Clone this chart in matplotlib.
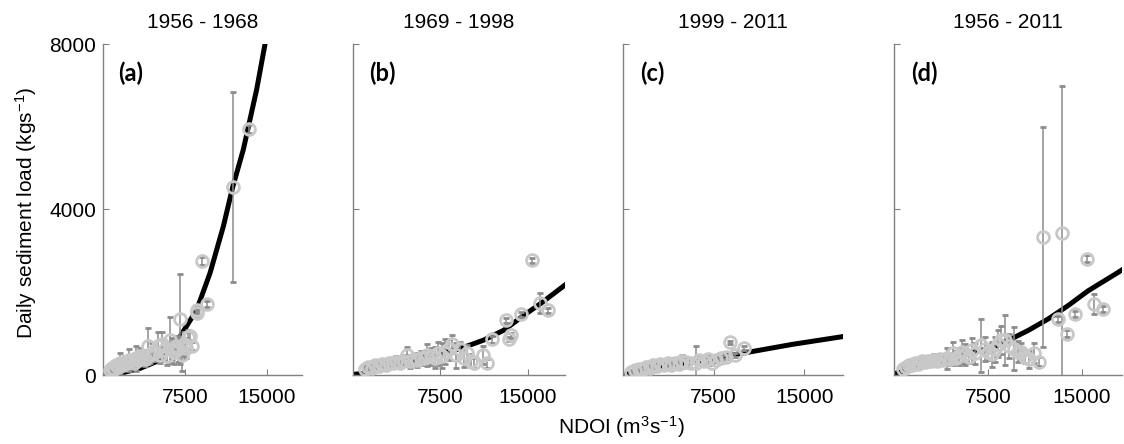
import matplotlib

matplotlib.use("Agg")
import matplotlib.pyplot as plt

# ---- data (NDOI m3/s, load kg/s, +/- error) ----
titles = ["1956 - 1968", "1969 - 1998", "1999 - 2011", "1956 - 2011"]
panel_tags = ["(a)", "(b)", "(c)", "(d)"]

a_q = [600, 800, 1000, 1200, 1400, 1600, 1800, 2000, 2200, 2400, 2600, 2800, 3000,
       3200, 3400, 3600, 3800, 4090, 4300, 4500, 4700, 5000, 5200, 5370, 5600, 5830,
       6130, 6300, 6500, 6700, 6900, 7050, 7200, 7400, 7600, 7810, 7960, 8110, 8570,
       8640, 9090, 9550, 11860, 13360]
a_load = [120, 180, 150, 230, 200, 280, 250, 320, 290, 360, 330, 300, 400,
          370, 450, 420, 380, 700, 480, 560, 520, 690, 480, 750, 600, 450,
          850, 640, 560, 700, 620, 1350, 480, 750, 650, 930, 945, 700, 1575,
          1500, 2750, 1720, 4540, 5940]
a_err = [60, 80, 70, 100, 90, 240, 120, 150, 130, 260, 120, 140, 300,
         150, 200, 180, 160, 430, 200, 220, 180, 360, 200, 300, 250, 200,
         550, 250, 300, 250, 300, 1090, 380, 300, 250, 150, 100, 100, 80,
         80, 100, 80, 2300, 100]
a_fit_q = [0, 500, 1560, 3390, 5220, 7050, 8570, 9790, 11010, 11860, 12840, 14060, 14820, 15300]
a_fit_load = [0, 10, 40, 160, 360, 930, 1575, 2465, 3595, 4540, 5455, 6910, 8000, 8600]

b_q = [1000, 1300, 1600, 1900, 2200, 2500, 2800, 3100, 3400, 3700, 4000, 4300, 4630,
       4900, 5200, 5500, 5800, 6100, 6350, 6700, 7000, 7270, 7600, 7900, 8200, 8510,
       8800, 9220, 9510, 9800, 10100, 10430, 11170, 11520, 11920, 13100, 13400, 13530,
       14450, 15400, 16060, 16750]
b_load = [150, 200, 180, 240, 220, 270, 250, 300, 280, 320, 300, 350, 480,
          330, 380, 360, 420, 400, 480, 450, 420, 520, 470, 560, 620, 750,
          480, 640, 400, 530, 350, 280, 480, 280, 860, 1325, 870, 965,
          1470, 2770, 1730, 1570]
b_err = [60, 80, 90, 100, 110, 110, 120, 120, 120, 130, 130, 140, 200,
         150, 150, 160, 160, 170, 270, 200, 250, 280, 300, 300, 250, 220,
         300, 150, 200, 200, 150, 120, 220, 100, 80, 60, 60, 60,
         60, 60, 240, 60]
b_fit_q = [-500, 890, 2610, 5490, 7500, 9220, 11230, 12960, 14680, 16120, 17990, 18500]
b_fit_load = [0, 40, 160, 400, 520, 640, 845, 1085, 1445, 1730, 2130, 2240]

c_q = [700, 1000, 1300, 1600, 1900, 2200, 2500, 2800, 3100, 3400, 3700, 4000, 4300,
       4600, 4900, 5250, 5600, 6015, 6300, 6700, 7050, 7400, 7720, 8100, 8540, 8820,
       9300, 10050]
c_load = [80, 110, 150, 130, 190, 170, 240, 210, 260, 230, 280, 250, 300,
          270, 330, 320, 290, 285, 360, 340, 380, 300, 366, 420, 430, 790,
          480, 650]
c_err = [40, 50, 60, 70, 80, 80, 90, 90, 130, 90, 100, 100, 120,
         110, 150, 120, 110, 405, 120, 100, 80, 60, 60, 50, 50, 40,
         50, 40]
c_fit_q = [-500, 0, 2000, 5000, 8000, 10740, 14000, 18000, 18500]
c_fit_load = [-30, 0, 120, 270, 430, 570, 740, 920, 945]

d_q = [700, 950, 1200, 1450, 1700, 1950, 2200, 2450, 2700, 2950, 3200, 3450, 3700,
       3950, 4200, 4450, 4700, 4950, 5200, 5450, 5700, 5950, 6200, 6500, 6970, 7260,
       7500, 7800, 8100, 8300, 8560, 8880, 9200, 9600, 9900, 10150, 10470, 10800,
       11200, 11600, 11860, 13100, 13440, 13810, 14420, 15410, 15970, 16700]
d_load = [150, 200, 250, 230, 290, 270, 330, 310, 350, 330, 370, 350, 380,
          360, 400, 380, 520, 420, 450, 560, 500, 430, 600, 520, 720, 640,
          560, 500, 620, 760, 840, 840, 700, 640, 560, 565, 445, 380,
          525, 325, 3340, 1355, 3420, 1000, 1475, 2810, 1715, 1595]
d_err = [60, 80, 100, 100, 110, 110, 120, 120, 120, 120, 130, 130, 130,
         130, 250, 150, 270, 150, 200, 280, 250, 150, 300, 250, 640, 290,
         200, 300, 300, 320, 340, 600, 300, 520, 250, 200, 150, 200,
         240, 100, 2660, 80, 3570, 80, 80, 80, 240, 80]
d_fit_q = [-500, 0, 2300, 4940, 7570, 9150, 10730, 12310, 13890, 15470, 17840, 18500]
d_fit_load = [0, 30, 210, 445, 640, 840, 1080, 1355, 1675, 2030, 2470, 2600]

panels = [
    (a_q, a_load, a_err, a_fit_q, a_fit_load),
    (b_q, b_load, b_err, b_fit_q, b_fit_load),
    (c_q, c_load, c_err, c_fit_q, c_fit_load),
    (d_q, d_load, d_err, d_fit_q, d_fit_load),
]

# axes extents in pixels (left, right); shared top/bottom
W, H = 1124, 444
axes_px = [(103, 302), (353, 565), (623, 843), (894, 1122)]
top_px, bottom_px = 44, 375

plt.rcParams["font.family"] = ["Liberation Sans", "DejaVu Sans"]
plt.rcParams["mathtext.default"] = "regular"
FS = 15
AXIS_GREY = "#808080"

fig = plt.figure(figsize=(W / 100, H / 100), dpi=100)
fig.patch.set_facecolor("white")

for i, (q, load, err, fq, fl) in enumerate(panels):
    left, right = axes_px[i]
    ax = fig.add_axes([left / W, 1 - bottom_px / H, (right - left) / W,
                       (bottom_px - top_px) / H])
    ax.plot(fq, fl, color="black", lw=3.6, solid_capstyle="butt", zorder=2)
    ax.errorbar(q, load, yerr=err, fmt="o", mfc="none", mec="#c8c8c8", ms=8.5,
                mew=2.0, ecolor="#8c8c8c", elinewidth=1.1, capsize=2.5,
                capthick=1.1, zorder=3)
    ax.set_xlim(0, 18200)
    ax.set_ylim(0, 8000)
    ax.set_xticks([7500, 15000])
    ax.set_xticklabels(["7500", "15000"])
    ax.set_yticks([0, 4000, 8000])
    if i == 0:
        ax.set_yticklabels(["0", "4000", "8000"])
    else:
        ax.set_yticklabels([])
    for side in ("top", "right"):
        ax.spines[side].set_visible(False)
    for side in ("left", "bottom"):
        ax.spines[side].set_color(AXIS_GREY)
        ax.spines[side].set_linewidth(1.0)
    ax.tick_params(direction="in", length=4, width=0.8, color=AXIS_GREY,
                   labelsize=FS)
    ax.tick_params(axis="x", pad=9)
    ax.tick_params(axis="y", pad=5)
    ax.text(1400, 7300, panel_tags[i], fontsize=17, fontweight="bold",
            family=["Lato", "DejaVu Sans"], ha="left", va="center")
    fig.text((left + right) / 2 / W, 1 - 22 / H, titles[i], fontsize=FS,
             ha="center", va="center")

fig.text(26 / W, 1 - 213 / H, "Daily sediment load (kgs$^{-1}$)", fontsize=FS,
         rotation=90, ha="center", va="center")
fig.text(621 / W, 1 - 427 / H, "NDOI (m$^{3}$s$^{-1}$)", fontsize=FS,
         ha="center", va="center")

fig.savefig("out.png", dpi=100)
